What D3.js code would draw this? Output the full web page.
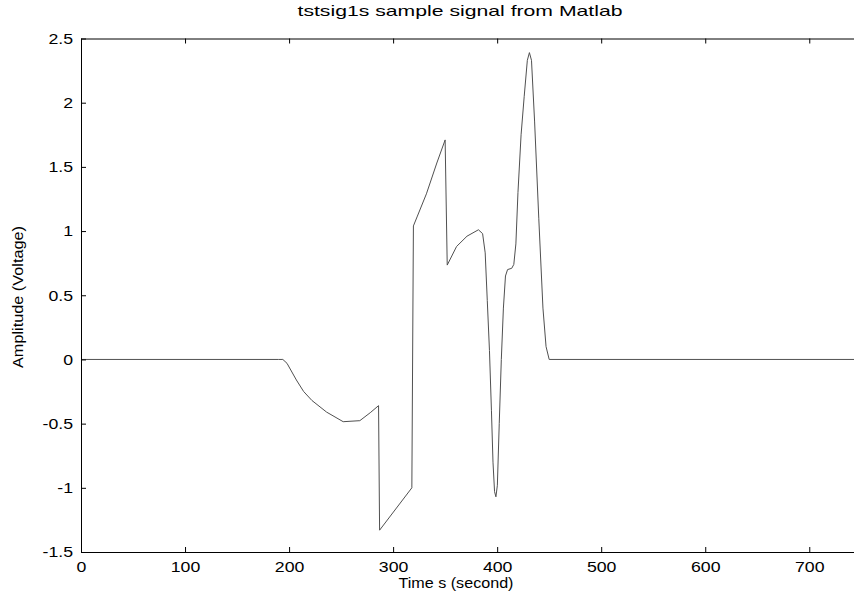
<!DOCTYPE html>
<html>
<head>
<meta charset="utf-8">
<script src="https://cdn.jsdelivr.net/npm/d3@7"></script>
<style>
  html, body { margin: 0; padding: 0; background: #fff; }
  svg { display: block; overflow: hidden; }
  .tick text, .label { font-family: "Liberation Sans", Arial, sans-serif; fill: #000; }
</style>
</head>
<body>
<div id="chart"></div>
<script>
// signal
const timeValues = [0, 190, 194, 198, 207, 214, 222, 236, 252, 268, 278, 286, 287,
  318, 319.5, 323, 332, 342, 350, 352, 361, 371, 382, 386, 388.5, 390.5, 392.6,
  394.5, 396, 397.5, 398.8, 400.2, 402, 404, 406, 408, 410, 414, 416, 418, 420,
  423, 426, 429, 431, 433, 436, 440, 444, 447, 450, 760];
const amplitudeValues = [0, 0, 0, -0.03, -0.16, -0.25, -0.32, -0.41, -0.485, -0.477, -0.415, -0.36, -1.33,
  -1.0, 1.04, 1.11, 1.29, 1.53, 1.71, 0.735, 0.88, 0.96, 1.01, 0.98, 0.83, 0.46, 0.07,
  -0.4, -0.8, -1.03, -1.07, -0.98, -0.5, 0.0, 0.4, 0.65, 0.7, 0.71, 0.74, 0.9, 1.3,
  1.75, 2.05, 2.33, 2.39, 2.33, 1.85, 1.1, 0.4, 0.1, 0, 0];

const xTickValues = [0, 100, 200, 300, 400, 500, 600, 700];
const yTickValues = [-1.5, -1, -0.5, 0, 0.5, 1, 1.5, 2, 2.5];
const xDomain = [0, 750];
const yDomain = [-1.5, 2.5];

const width = 854, height = 594;
const margin = { top: 38.5, left: 81, bottom: 42 };
const plotRight = 861.3; // axes box runs past the scanned edge

const svg = d3.select("#chart").append("svg")
  .attr("width", width)
  .attr("height", height);

const x = d3.scaleLinear().domain(xDomain).range([margin.left, plotRight]);
const y = d3.scaleLinear().domain(yDomain).range([height - margin.bottom, margin.top]);

// the scan stretches the lettering sideways a bit
function stretch(sel, factor) {
  sel.each(function () {
    const len = this.getComputedTextLength();
    d3.select(this).attr("textLength", len * factor).attr("lengthAdjust", "spacingAndGlyphs");
  });
}

// signal line
const line = d3.line()
  .x((d, i) => x(timeValues[i]))
  .y(d => y(d));

svg.append("path")
  .datum(amplitudeValues)
  .attr("fill", "none")
  .attr("stroke", "#505050")
  .attr("stroke-width", 1)
  .attr("d", line);

// axes, ticks pointing inward like Matlab
const fmt = d => String(d);

svg.append("g")
  .attr("transform", `translate(0,${y(-1.5)})`)
  .call(d3.axisBottom(x).tickValues(xTickValues).tickSizeInner(-5).tickSizeOuter(0).tickPadding(9).tickFormat(fmt))
  .call(g => g.selectAll(".tick text").attr("font-size", 15).call(stretch, 1.18));

svg.append("g")
  .attr("transform", `translate(0,${y(2.5)})`)
  .call(d3.axisTop(x).tickValues(xTickValues).tickSizeInner(-5).tickSizeOuter(0).tickFormat(""));

svg.append("g")
  .attr("transform", `translate(${x(0)},0)`)
  .call(d3.axisLeft(y).tickValues(yTickValues).tickSizeInner(-5).tickSizeOuter(0).tickPadding(8).tickFormat(fmt))
  .call(g => g.selectAll(".tick text").attr("font-size", 15).call(stretch, 1.18));

svg.selectAll(".domain").attr("stroke", "#000");
svg.selectAll(".tick line").attr("stroke", "#000");

// labels
svg.append("text")
  .attr("class", "label")
  .attr("x", 460)
  .attr("y", 16)
  .attr("text-anchor", "middle")
  .attr("font-size", 15)
  .attr("textLength", 325)
  .attr("lengthAdjust", "spacingAndGlyphs")
  .text("tstsig1s sample signal from Matlab");

svg.append("text")
  .attr("class", "label")
  .attr("x", 456)
  .attr("y", 588)
  .attr("text-anchor", "middle")
  .attr("font-size", 15)
  .attr("textLength", 115)
  .attr("lengthAdjust", "spacingAndGlyphs")
  .text("Time s (second)");

svg.append("text")
  .attr("class", "label")
  .attr("transform", `translate(23,297) rotate(-90)`)
  .attr("text-anchor", "middle")
  .attr("font-size", 15)
  .attr("textLength", 142)
  .attr("lengthAdjust", "spacingAndGlyphs")
  .text("Amplitude (Voltage)");
</script>
</body>
</html>
